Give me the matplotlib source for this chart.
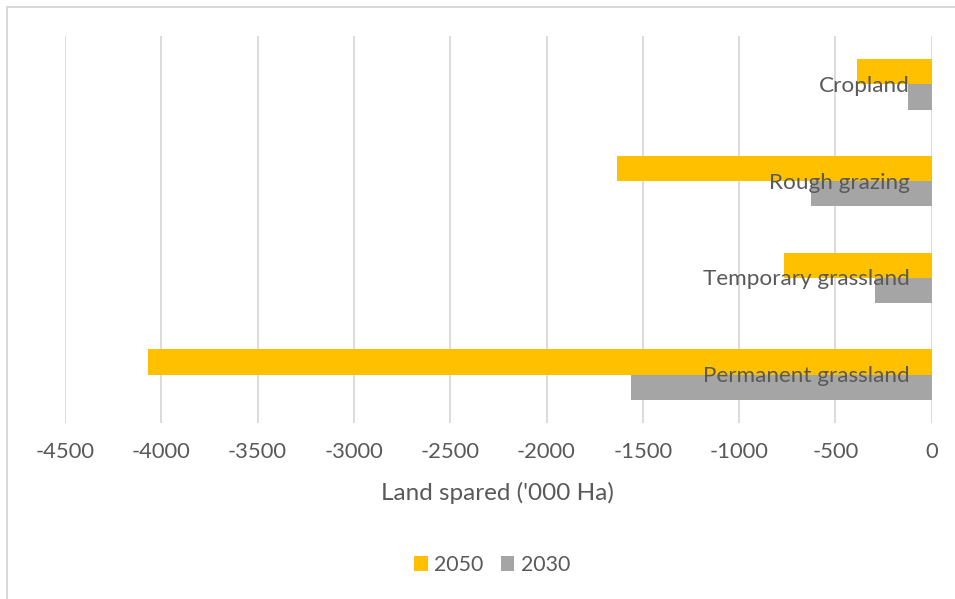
import matplotlib.pyplot as plt
import matplotlib.transforms as mtransforms
from matplotlib.patches import Rectangle
import numpy as np

# land spared, '000 Ha
categories = ['Cropland', 'Rough grazing', 'Temporary grassland', 'Permanent grassland']
y2050 = [-387, -1634, -766, -4067]
y2030 = [-125, -626, -293, -1559]
xticks = [-4500, -4000, -3500, -3000, -2500, -2000, -1500, -1000, -500, 0]

COL2050 = '#FFC000'
COL2030 = '#A5A5A5'
TXT = '#595959'
GRID = '#D9D9D9'

plt.rcParams['font.family'] = ['Lato', 'DejaVu Sans']

fig = plt.figure(figsize=(9.55, 5.99), dpi=100)
ax = fig.add_axes([65 / 955, 1 - 423 / 599, (931.7 - 65) / 955, (423 - 36) / 599])

# chart area border (only left/top visible in the reference)
fig.patches.append(Rectangle((7 / 955, -0.1), 1.2, 1 - 7 / 599 + 0.1,
                             transform=fig.transFigure, fill=False,
                             edgecolor=GRID, linewidth=1.5))

pos = np.arange(len(categories))
h = 0.262
ax.barh(pos - h / 2, y2050, height=h, color=COL2050, label='2050', zorder=3)
ax.barh(pos + h / 2, y2030, height=h, color=COL2030, label='2030', zorder=3)

ax.set_xlim(-4500, 0)
ax.set_ylim(len(categories) - 0.5, -0.5)
ax.set_xticks(xticks)
ax.set_xticklabels([str(t) for t in xticks], color=TXT, fontsize=15.8)
ax.tick_params(axis='x', length=0, pad=14)
ax.set_yticks([])
ax.grid(axis='x', color=GRID, linewidth=1.3, zorder=0)
for s in ax.spines.values():
    s.set_visible(False)

lab_tr = mtransforms.offset_copy(ax.transData, fig=fig, x=-22, y=-1.5, units='dots')
for i, c in enumerate(categories):
    ax.text(0, i, c, transform=lab_tr, ha='right', va='center',
            color=TXT, fontsize=16.2, zorder=4)

fig.text(497.8 / 955, 1 - 493 / 599, "Land spared ('000 Ha)", ha='center', va='center',
         color=TXT, fontsize=17.5)

leg = fig.legend(loc='center', bbox_to_anchor=(492 / 955, 1 - 565 / 599), ncol=2,
                 frameon=False, fontsize=15.3, handlelength=0.65, handleheight=0.65,
                 handletextpad=0.3, columnspacing=0.8, labelcolor=TXT)

fig.savefig('out.png', dpi=100)
